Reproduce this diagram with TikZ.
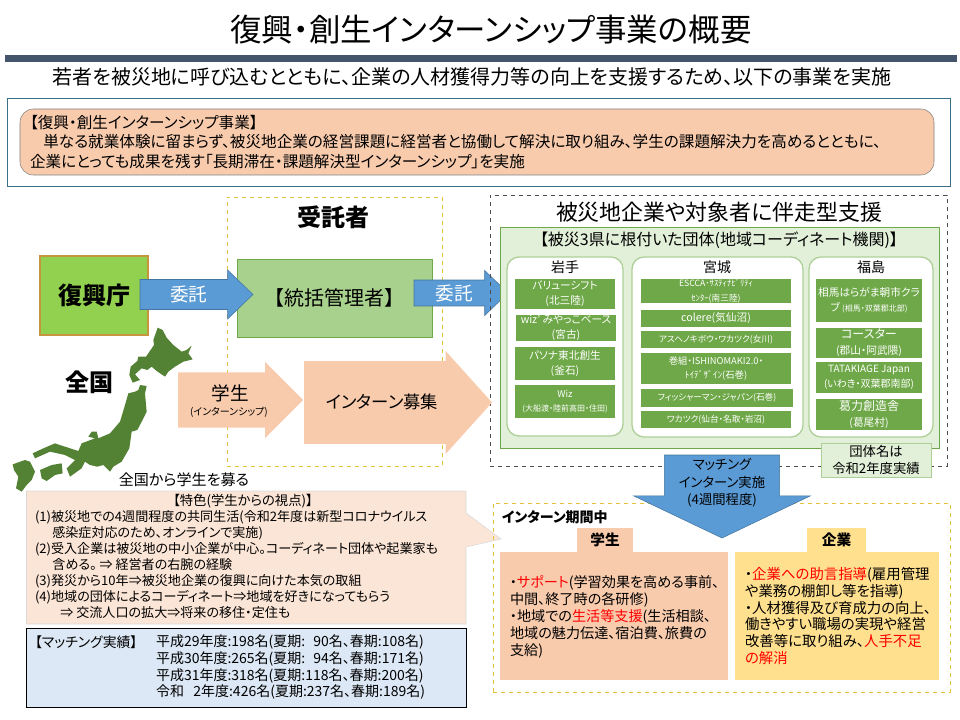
\documentclass[tikz,border=0pt]{standalone}
\usepackage{fontspec}
\setmainfont{Noto Sans CJK JP}[RawFeature=+palt]
\usetikzlibrary{shapes.arrows}
\newcommand{\fs}[2]{\fontsize{#1}{#2}\selectfont}
\definecolor{peach}{HTML}{F8CBAD}
\definecolor{paleorange}{HTML}{FBE5D6}
\definecolor{blockblue}{HTML}{5B9BD5}
\definecolor{leaf}{HTML}{6FA848}
\definecolor{palegreen}{HTML}{E2F0D9}
\definecolor{dashyellow}{HTML}{E6C13C}
\definecolor{cream}{HTML}{FFE08F}
\definecolor{slatebar}{HTML}{44546A}
\definecolor{tealline}{HTML}{3C6E87}
\definecolor{limefill}{HTML}{92D050}
\definecolor{ochreline}{HTML}{C5963E}
\definecolor{sagefill}{HTML}{A9D18E}
\definecolor{mapgreen}{HTML}{548235}
\definecolor{paleblue}{HTML}{DCE8F5}
\tikzset{
  sz/.style 2 args={minimum width=#1*0.75pt, minimum height=#2*0.75pt},
  plain/.style={rectangle, inner sep=0pt, outer sep=0pt, align=center},
  cell/.style={plain, fill=leaf, text=white, font=\fs{8}{11}},
  yellowbox/.style={plain, draw=dashyellow, dashed},
  region/.style={plain, draw=palegreen!55!leaf, line width=1pt, fill=white, rounded corners=9pt},
  bluearrow/.style={single arrow, inner sep=0pt, outer sep=0pt, fill=blockblue, draw=blockblue!75!black, text=white, align=center, single arrow tip angle=88},
  peacharrow/.style={single arrow, inner sep=0pt, outer sep=0pt, fill=peach, single arrow tip angle=90},
}
\begin{document}
\begin{tikzpicture}[x=0.75pt,y=-0.75pt]
\useasboundingbox (0,0) rectangle (960,720);

\node[plain, font=\fs{23.6}{28}] (title) at (491,30) {復興・創生インターンシップ事業の概要};
\node[plain, fill=slatebar, sz={952}{7}] (bar) at (481,58.5) {};
\node[plain, font=\fs{15}{18}] (lead) at (472,77) {若者を被災地に呼び込むとともに、企業の人材獲得力等の向上を支援するため、以下の事業を実施};

\node[plain, draw=tealline, sz={943}{88}] (outer) at (478.5,142) {};
\node[plain, draw=gray, fill=peach, rounded corners=10pt, sz={914}{66}] (banner) at (477,142) {};
\node[plain, anchor=west, align=left, font=\fs{11.7}{14.6}] (bannertext) at (30,142) {【復興・創生インターンシップ事業】\\\hspace*{10pt}単なる就業体験に留まらず、被災地企業の経営課題に経営者と協働して解決に取り組み、学生の課題解決力を高めるとともに、\\企業にとっても成果を残す「長期滞在・課題解決型インターンシップ」を実施};

\node[yellowbox, sz={215}{269}] (jutaku) at (334.5,331.5) {};
\node[plain, font=\fs{18}{22}\bfseries] (jutakulabel) at (333,217) {受託者};
\node[plain, draw=ochreline, fill=limefill, line width=1pt, sz={108}{79}, font=\fs{18}{22}\bfseries] (fukko) at (94,295.5) {復興庁};
\node[plain, draw=leaf, fill=sagefill, sz={195}{78}, font=\fs{15}{18}] (tokatsu) at (334.5,298) {【統括管理者】};
\node[bluearrow, anchor=tip, sz={44}{113}, inner ysep=4.6pt, font=\fs{14}{18}] (itaku1) at (253,294.5) {委託};
\node[bluearrow, anchor=tip, sz={40}{94}, inner ysep=3.1pt, font=\fs{14}{18}] (itaku2) at (508,293) {委託};

\node[plain, draw=black!70, dashed, sz={457}{271}] (shien) at (718.5,330.5) {};
\node[plain, font=\fs{16.4}{20}] (shienlabel) at (719,212) {被災地企業や対象者に伴走型支援};
\node[plain, draw=leaf, fill=palegreen, sz={439}{221}] (panel) at (719.5,337.5) {};
\node[plain, font=\fs{12}{14}] (panellabel) at (719,240) {【被災3県に根付いた団体(地域コーディネート機関)】};

\node[region, sz={116}{179}] (iwate) at (565,346.5) {};
\node[region, sz={171}{180}] (miyagi) at (717.5,347) {};
\node[region, sz={124}{180}] (fukushima) at (871,347) {};
\node[plain, font=\fs{10.5}{13}] (iwatelabel) at (565,267) {岩手};
\node[plain, font=\fs{10.5}{13}] (miyagilabel) at (717,267) {宮城};
\node[plain, font=\fs{10.5}{13}] (fukushimalabel) at (871,267) {福島};

\node[cell, sz={100}{30}] (iw1) at (565,294) {バリューシフト\\(北三陸)};
\node[cell, sz={100}{26}] (iw2) at (566,328) {wiz' みやっこベース\\(宮古)};
\node[cell, sz={100}{33}] (iw3) at (565,363.5) {パソナ東北創生\\(釜石)};
\node[cell, sz={100}{33}, font=\fs{7}{10}] (iw4) at (565,401.5) {Wiz\\{\fs{6}{10}(大船渡・陸前高田・住田)}};

\node[cell, sz={150}{24}, font=\fs{6.5}{11}] (my1) at (716,291) {ESCCA･ｻｽﾃｨﾅﾋﾞﾘﾃｨ\\ｾﾝﾀｰ(南三陸)};
\node[cell, sz={150}{17}] (my2) at (716,318.5) {colere(気仙沼)};
\node[cell, sz={150}{17}, font=\fs{6.5}{10}] (my3) at (716,339.5) {アスヘノキボウ・ワカツク(女川)};
\node[cell, sz={150}{31}, font=\fs{7}{11}] (my4) at (716,368.5) {巻組・ISHINOMAKI2.0・\\ﾄｲﾃﾞｻﾞｲﾝ(石巻)};
\node[cell, sz={152}{18}, font=\fs{6.5}{10}] (my5) at (717,398) {フィッシャーマン・ジャパン(石巻)};
\node[cell, sz={150}{17}, font=\fs{6.5}{10}] (my6) at (716,419.5) {ワカツク(仙台・名取・岩沼)};

\node[cell, sz={106}{43}] (fk1) at (869,300.5) {相馬はらがま朝市クラ\\ブ {\fs{6}{10}(相馬・双葉郡北部)}};
\node[cell, sz={106}{30}, font=\fs{9}{12}] (fk2) at (869,343) {コースター\\{\fs{8}{12}(郡山・阿武隈)}};
\node[cell, sz={106}{31}, font=\fs{7.5}{11}] (fk3) at (869,377.5) {TATAKIAGE Japan\\(いわき・双葉郡南部)};
\node[cell, sz={106}{31}, font=\fs{9}{12}] (fk4) at (869,414.5) {葛力創造舎\\{\fs{8}{12}(葛尾村)}};

\node[plain, draw=palegreen!55!leaf, fill=palegreen, sz={110}{34}, font=\fs{10}{12.5}] (note) at (876,460) {団体名は\\令和2年度実績};

\node[peacharrow, anchor=tip, sz={76}{125}, inner ysep=18.75pt] (gakusei) at (303,400) {};
\node[plain, font=\fs{14}{16}] (gakuseilabel) at (230,393) {学生};
\node[plain, font=\fs{7.5}{9}] (gakuseisub) at (229,412) {(インターンシップ)};
\node[peacharrow, anchor=tip, sz={103}{188}, inner ysep=28.9pt, single arrow tip angle=96] (boshu) at (492,402.5) {};
\node[plain, font=\fs{13}{16}] (boshulabel) at (382,402) {インターン募集};

\begin{scope}[x=0.25pt,y=-0.25pt,xshift=7.5pt,yshift=-243.75pt,fill=mapgreen]
\fill (443,8) -- (458,15) -- (470,38) -- (490,60) -- (515,80) -- (530,75) -- (545,62) -- (535,85) -- (548,103) -- (520,110) -- (495,125) -- (475,140) -- (465,155) -- (440,138) -- (425,125) -- (412,135) -- (395,130) -- (375,148) -- (390,165) -- (368,173) -- (358,150) -- (362,125) -- (382,108) -- (385,95) -- (408,95) -- (432,60) -- (430,45) -- cycle;
\fill (390,180) -- (410,183) -- (405,205) -- (410,260) -- (395,290) -- (382,315) -- (365,320) -- (358,370) -- (335,410) -- (310,425) -- (300,440) -- (280,420) -- (262,425) -- (240,420) -- (225,410) -- (215,430) -- (180,455) -- (170,430) -- (195,405) -- (165,390) -- (120,380) -- (75,400) -- (68,385) -- (100,370) -- (135,355) -- (165,365) -- (205,378) -- (215,355) -- (255,340) -- (235,335) -- (245,320) -- (260,320) -- (265,340) -- (300,325) -- (330,290) -- (345,240) -- (355,205) -- (375,200) -- (385,195) -- cycle;
\fill (90,435) -- (125,420) -- (155,415) -- (158,445) -- (135,450) -- (110,468) -- (95,460) -- cycle;
\fill (8,418) -- (45,405) -- (60,410) -- (75,440) -- (65,465) -- (50,480) -- (35,500) -- (18,490) -- (25,455) -- (12,435) -- cycle;
\end{scope}
\node[plain, font=\fs{18}{22}\bfseries] (zenkoku) at (89,382) {全国};
\node[plain, font=\fs{11.3}{14}] (zenkokulabel) at (184,480) {全国から学生を募る};

\draw[draw=black!15, fill=paleorange] (26.5,491) -- (466,491) -- (466,513) -- (501,539) -- (466,547) -- (466,624) -- (26.5,624) -- cycle;
\node[plain, font=\fs{10}{12}] (tokushoku) at (243,501) {【特色(学生からの視点)】};
\node[plain, anchor=north west, align=left, font=\fs{9.8}{12}] (tokushokutext) at (35,510.5) {(1)被災地での4週間程度の共同生活(令和2年度は新型コロナウイルス\\\hspace*{13pt}感染症対応のため、オンラインで実施)\\(2)受入企業は被災地の中小企業が中心。コーディネート団体や起業家も\\\hspace*{13pt}含める。 ⇒ 経営者の右腕の経験\\(3)発災から10年⇒被災地企業の復興に向けた本気の取組\\(4)地域の団体によるコーディネート⇒地域を好きになってもらう\\\hspace*{19pt}⇒ 交流人口の拡大⇒将来の移住・定住も};

\node[plain, draw=black, fill=paleblue, sz={439.5}{79}] (jisseki) at (246.25,667.5) {};
\node[plain, anchor=west, font=\fs{10.4}{12}] (jissekilabel) at (35,642) {【マッチング実績】};
\node[plain, anchor=north west, align=left, font=\fs{10.5}{12.5}] (jissekitext) at (156,635) {平成29年度:198名(夏期:\hspace{6pt}90名、春期:108名)\\平成30年度:265名(夏期:\hspace{6pt}94名、春期:171名)\\平成31年度:318名(夏期:118名、春期:200名)\\令和\hspace{7pt}2年度:426名(夏期:237名、春期:189名)};

\node[yellowbox, sz={457}{189}] (kikan) at (721.5,597.5) {};
\node[plain, anchor=west, font=\fs{10.5}{13}\bfseries] (kikanlabel) at (502,517) {インターン期間中};
\node[plain, fill=peach, sz={56}{24}, font=\fs{11}{14}\bfseries] (tabgakusei) at (605,540) {学生};
\node[plain, fill=cream, sz={59}{24}, font=\fs{11}{14}\bfseries] (tabkigyo) at (836.5,540) {企業};
\node[plain, fill=peach, sz={228}{128}] (gakuseibox) at (614,616) {};
\node[plain, fill=cream, sz={204}{128}] (kigyobox) at (837,616) {};
\node[plain, anchor=west, align=left, font=\fs{10.6}{12.7}] (gakuseitext) at (510,617) {・\textcolor{red}{サポート}(学習効果を高める事前、\\中間、終了時の各研修)\\・地域での\textcolor{red}{生活等支援}(生活相談、\\地域の魅力伝達、宿泊費、旅費の\\支給)};
\node[plain, anchor=west, align=left, font=\fs{10.8}{12.5}] (kigyotext) at (745,616) {・\textcolor{red}{企業への助言指導}(雇用管理\\や業務の棚卸し等を指導)\\・人材獲得及び育成力の向上、\\働きやすい職場の実現や経営\\改善等に取り組み、\textcolor{red}{人手不足}\\\textcolor{red}{の解消}};

\node[bluearrow, anchor=tip, sz={177}{83}, single arrow head extend=17.5pt, shape border rotate=270, single arrow tip angle=129, text=black, font=\fs{10}{13}] (matching) at (722,538) {マッチング\\インターン実施\\(4週間程度)};
\end{tikzpicture}
\end{document}
